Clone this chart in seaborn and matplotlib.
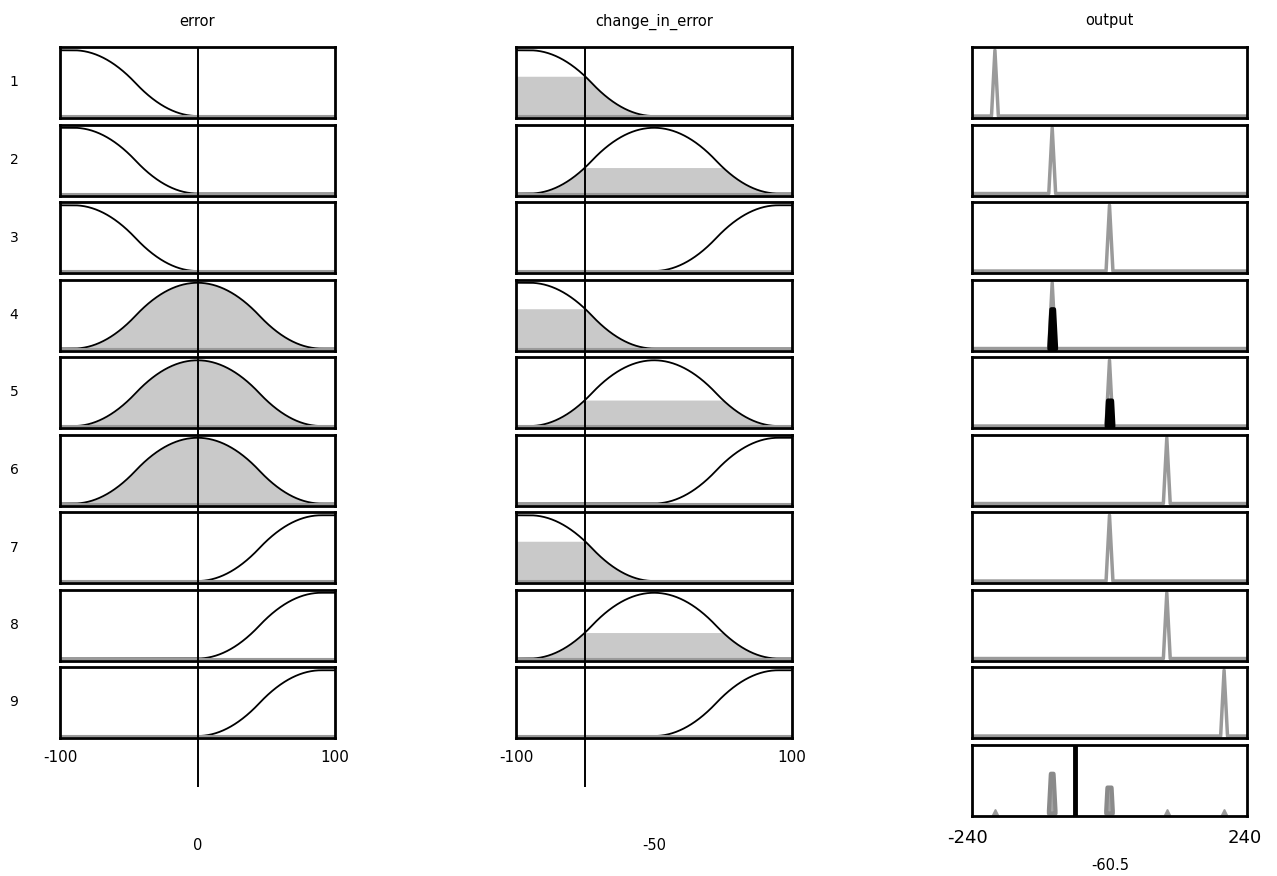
import numpy as np
import pandas as pd
import matplotlib
matplotlib.use("Agg")
import matplotlib.pyplot as plt
import seaborn as sns

# fuzzy rule viewer: inputs, rules and output
input_names = ["error", "change_in_error"]
input_values = [0, -50]
input_range = [-100, 100]

output_name = "output"
output_range = [-240, 240]
output_value = -60.5

# membership functions of both inputs (same set for both)
mf_names = ["N", "Z", "P"]
mf_types = ["zmf", "pimf", "smf"]
mf_params = [[-90, 0], [-90, 0, 0, 90], [0, 90]]

# output singletons (narrow triangles)
out_centers = [-200, -100, 0, 100, 200]
out_halfwidth = 6

# rule table: (error mf, change mf) -> output centre
rule_error = ["N", "N", "N", "Z", "Z", "Z", "P", "P", "P"]
rule_change = ["N", "Z", "P", "N", "Z", "P", "N", "Z", "P"]
rule_output = [-200, -100, 0, -100, 0, 100, 0, 100, 200]


def zmf(x, a, b):
    m = (a + b) / 2
    y = np.where(x <= a, 1.0, 0.0)
    y = np.where((x > a) & (x <= m), 1 - 2 * ((x - a) / (b - a)) ** 2, y)
    y = np.where((x > m) & (x < b), 2 * ((x - b) / (b - a)) ** 2, y)
    return y


def smf(x, a, b):
    return 1 - zmf(x, a, b)


def pimf(x, a, b, c, d):
    return np.minimum(smf(x, a, b), zmf(x, c, d))


def mf_eval(name, x):
    i = mf_names.index(name)
    fn = {"zmf": zmf, "pimf": pimf, "smf": smf}[mf_types[i]]
    return fn(np.asarray(x, dtype=float), *mf_params[i])


def tri(x, c):
    return np.clip(1 - np.abs(x - c) / out_halfwidth, 0, 1)


sns.set_theme(style="white")
plt.rcParams["font.family"] = ["DejaVu Sans"]

W, H = 1277, 876
fig = plt.figure(figsize=(W / 100, H / 100), dpi=100)
fig.patch.set_facecolor("white")


def px_axes(x0, y0, x1, y1):
    return fig.add_axes([x0 / W, 1 - y1 / H, (x1 - x0) / W, (y1 - y0) / H])


def frame(ax):
    ax.set_xticks([])
    ax.set_yticks([])
    for s in ax.spines.values():
        s.set_visible(True)
        s.set_color("black")
        s.set_linewidth(2)


cols_x = [(60, 335), (516, 792), (972, 1247)]
row_top, row_pitch, row_h = 47, 77.5, 71
n_rules = len(rule_output)

x_in = np.linspace(input_range[0], input_range[1], 801)
x_out = np.linspace(output_range[0], output_range[1], 1921)

strengths = []
for r in range(n_rules):
    mu_e = float(mf_eval(rule_error[r], input_values[0]))
    mu_c = float(mf_eval(rule_change[r], input_values[1]))
    strengths.append(min(mu_e, mu_c))

# input columns
for k, (x0, x1) in enumerate(cols_x[:2]):
    rule_mfs = rule_error if k == 0 else rule_change
    mu_in = [float(mf_eval(m, input_values[k])) for m in rule_mfs]
    for r in range(n_rules):
        top = row_top + r * row_pitch
        ax = px_axes(x0, top, x1, top + row_h)
        y = mf_eval(rule_mfs[r], x_in)
        ax.fill_between(x_in, 0, np.minimum(y, mu_in[r]), color="#c9c9c9", lw=0)
        df = pd.DataFrame({"x": x_in, "mu": y})
        sns.lineplot(data=df, x="x", y="mu", ax=ax, color="black", lw=1.3)
        ax.axhline(0, color="#9a9a9a", lw=1.5)
        ax.set_xlim(*input_range)
        ax.set_ylim(-0.03, 1.05)
        ax.set_xlabel("")
        ax.set_ylabel("")
        frame(ax)
    # vertical line for the input value
    ov = px_axes(x0, row_top, x1, 787)
    ov.set_xlim(*input_range)
    ov.set_ylim(0, 1)
    ov.axvline(input_values[k], color="black", lw=1.4)
    ov.patch.set_alpha(0)
    ov.axis("off")
    cx = (x0 + x1) / 2
    fig.text(cx / W, 1 - 22 / H, input_names[k], ha="center", va="center",
             fontsize=10.5, color="black")
    fig.text(x0 / W, 1 - 757 / H, f"{input_range[0]}", ha="center", va="center",
             fontsize=11, color="black")
    fig.text(x1 / W, 1 - 757 / H, f"{input_range[1]}", ha="center", va="center",
             fontsize=11, color="black")
    fig.text(cx / W, 1 - 845 / H, f"{input_values[k]:g}", ha="center", va="center",
             fontsize=10.5, color="black")

# row numbers
for r in range(n_rules):
    top = row_top + r * row_pitch
    fig.text(14 / W, 1 - (top + row_h / 2) / H, str(r + 1), ha="center", va="center",
             fontsize=10, color="black")

# output column
x0, x1 = cols_x[2]
agg = np.zeros_like(x_out)
for r in range(n_rules):
    top = row_top + r * row_pitch
    ax = px_axes(x0, top, x1, top + row_h)
    t = tri(x_out, rule_output[r])
    clipped = np.minimum(t, strengths[r])
    agg = np.maximum(agg, clipped)
    df = pd.DataFrame({"x": x_out, "mu": t})
    sns.lineplot(data=df, x="x", y="mu", ax=ax, color="#9a9a9a", lw=2.5)
    if strengths[r] > 0:
        ax.fill_between(x_out, 0, clipped, where=clipped > 0, color="black",
                        edgecolor="black", lw=3, zorder=4)
    ax.set_xlim(*output_range)
    ax.set_ylim(-0.03, 1.05)
    ax.set_xlabel("")
    ax.set_ylabel("")
    frame(ax)

top = row_top + n_rules * row_pitch
ax = px_axes(x0, top, x1, top + row_h)
ax.fill_between(x_out, 0, agg, where=agg > 0, color="#a5a5a5",
                edgecolor="#8a8a8a", lw=3)
zero_out = [c for c in out_centers if agg[np.argmin(np.abs(x_out - c))] == 0]
ax.plot(zero_out, [0.02] * len(zero_out), ls="none", marker="^", ms=5,
        color="#9a9a9a")
ax.axvline(output_value, color="black", lw=3.5)
ax.set_xlim(*output_range)
ax.set_ylim(-0.03, 1.05)
frame(ax)

cx = (x0 + x1) / 2
fig.text(cx / W, 1 - 21 / H, output_name, ha="center", va="center",
         fontsize=10.5, color="black")
fig.text(968 / W, 1 - 838 / H, f"{output_range[0]}", ha="center", va="center",
         fontsize=13, color="black")
fig.text(1245 / W, 1 - 838 / H, f"{output_range[1]}", ha="center", va="center",
         fontsize=13, color="black")
fig.text(1110 / W, 1 - 865 / H, f"{output_value}", ha="center", va="center",
         fontsize=10.5, color="black")

fig.savefig("out.png", dpi=100)
